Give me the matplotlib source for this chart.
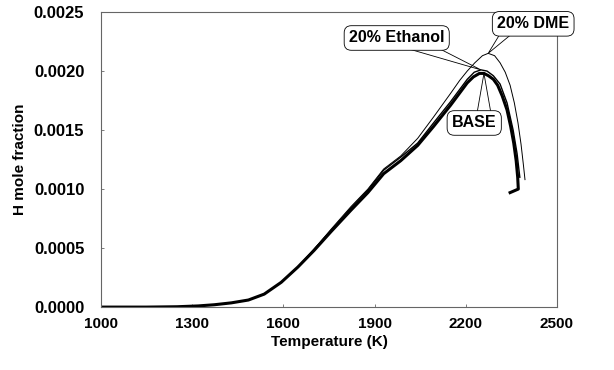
import matplotlib
matplotlib.use("Agg")
import matplotlib.pyplot as plt
from matplotlib.patches import Polygon
from matplotlib.transforms import IdentityTransform

plt.rcParams['font.family'] = ['Liberation Sans', 'DejaVu Sans']
plt.rcParams['font.weight'] = 'bold'

# H mole fraction vs temperature for the three fuels
t_base = [1000, 1150, 1250, 1320, 1373, 1429, 1485, 1537, 1593, 1648, 1701, 1757,
          1822, 1878, 1930, 1986, 2042, 2094, 2150, 2205, 2225, 2245, 2260, 2275,
          2291, 2305, 2320, 2336, 2348, 2358, 2366, 2371, 2373, 2346]
h_base = [0.0, 0.0, 0.000003, 0.00001, 0.00002, 0.000036, 0.00006, 0.00011, 0.00021,
          0.00034, 0.00048, 0.00064, 0.00082, 0.00097, 0.00113, 0.00124, 0.00137,
          0.00153, 0.00171, 0.00190, 0.00195, 0.00198, 0.00198, 0.00196, 0.00193,
          0.00188, 0.00179, 0.00167, 0.00153, 0.00139, 0.00124, 0.00110, 0.00100,
          0.00097]

t_eth = [1000, 1150, 1250, 1320, 1373, 1429, 1485, 1537, 1593, 1648, 1701, 1757,
         1822, 1878, 1930, 1986, 2042, 2094, 2150, 2205, 2228, 2250, 2270, 2291,
         2313, 2336, 2356, 2369, 2378]
h_eth = [0.0, 0.0, 0.000003, 0.00001, 0.00002, 0.000036, 0.00006, 0.00011, 0.00021,
         0.00034, 0.00049, 0.00065, 0.00084, 0.00099, 0.00116, 0.00127, 0.00139,
         0.00156, 0.00174, 0.00193, 0.00199, 0.00201, 0.00200, 0.00196, 0.00189,
         0.00173, 0.00150, 0.00130, 0.00110]

t_dme = [1000, 1150, 1250, 1320, 1373, 1429, 1485, 1537, 1593, 1648, 1701, 1757,
         1822, 1878, 1930, 1986, 2042, 2094, 2150, 2180, 2205, 2230, 2255, 2274,
         2295, 2313, 2330, 2346, 2360, 2372, 2382, 2390, 2395]
h_dme = [0.0, 0.0, 0.000003, 0.00001, 0.00002, 0.000036, 0.00006, 0.00011, 0.00021,
         0.00034, 0.00049, 0.00066, 0.00085, 0.00100, 0.00117, 0.00128, 0.00143,
         0.00161, 0.00181, 0.00192, 0.00200, 0.00207, 0.00213, 0.00215, 0.00213,
         0.00207, 0.00199, 0.00188, 0.00173, 0.00156, 0.00138, 0.00120, 0.00108]

x_ticks = [1000, 1300, 1600, 1900, 2200, 2500]
y_ticks = [0.0, 0.0005, 0.0010, 0.0015, 0.0020, 0.0025]

fig = plt.figure(figsize=(6.14, 3.70), dpi=100)
ax = fig.add_axes([0.1645, 0.170, 0.7425, 0.7975])

ax.plot(t_dme, h_dme, color='black', lw=0.7)
ax.plot(t_eth, h_eth, color='black', lw=1.0)
ax.plot(t_base, h_base, color='black', lw=2.2, solid_joinstyle='round')

ax.set_xlim(1000, 2500)
ax.set_ylim(0, 0.0025)
ax.set_xticks(x_ticks)
ax.set_yticks(y_ticks)
ax.set_xticklabels([str(v) for v in x_ticks], fontsize=11, fontweight='bold')
ax.set_yticklabels(['%.4f' % v for v in y_ticks], fontsize=12, fontweight='bold')
ax.tick_params(direction='in', length=2, width=0.6, color='#666666')
ax.tick_params(axis='y', pad=12)
ax.tick_params(axis='x', pad=7)
for sp in ax.spines.values():
    sp.set_color('#666666')
    sp.set_linewidth(0.8)

ax.set_xlabel('Temperature (K)', fontsize=11, fontweight='bold', labelpad=3)
ax.set_ylabel('H mole fraction', fontsize=11, fontweight='bold', labelpad=5)

# Callout boxes with a triangular pointer from the box edge to the peak
box = dict(boxstyle='round,pad=0.3,rounding_size=0.45', fc='white', ec='black', lw=0.6)
callouts = [
    # text, pointed-at point, box centre, pointer base along edge, edge
    ('20% Ethanol', (t_eth[21], h_eth[21]), (1973, 0.00228), (0.56, 0.88), 'bottom'),
    ('20% DME', (t_dme[23], h_dme[23]), (2422, 0.00240), (0.10, 0.25), 'bottom'),
    ('BASE', (t_base[22], h_base[22]), (2228, 0.00156), (0.55, 0.81), 'top'),
]

labels = []
for text, xy, xytext, base, edge in callouts:
    t = ax.text(xytext[0], xytext[1], text, fontsize=11.5, fontweight='bold',
                ha='center', va='center', bbox=box, zorder=5)
    labels.append(t)

fig.canvas.draw()
renderer = fig.canvas.get_renderer()
for t, (text, xy, xytext, base, edge) in zip(labels, callouts):
    bb = t.get_bbox_patch().get_window_extent(renderer)
    ey = bb.y0 + 3 if edge == 'bottom' else bb.y1 - 3
    tip = ax.transData.transform(xy)
    pts = [(bb.x0 + base[0] * bb.width, ey), tuple(tip),
           (bb.x0 + base[1] * bb.width, ey)]
    ax.add_patch(Polygon(pts, closed=True, fc='white', ec='black', lw=0.6,
                         transform=IdentityTransform(), zorder=1.5,
                         clip_on=False))

fig.savefig('out.png', dpi=100)
